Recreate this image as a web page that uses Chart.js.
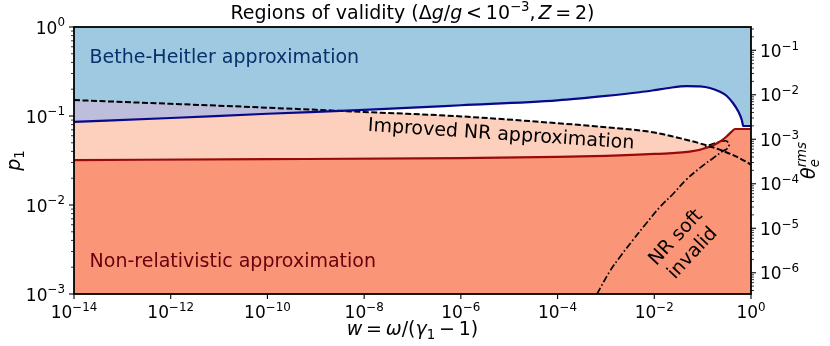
<!DOCTYPE html>
<html>
<head>
<meta charset="utf-8">
<script src="https://cdn.jsdelivr.net/npm/chart.js@4"></script>
<style>
  html, body { margin: 0; padding: 0; background: #fff; }
</style>
</head>
<body>
<canvas id="myChart" width="830" height="346"></canvas>
<script>
// ---- data (w on x, p1 on y) ----
// Bethe-Heitler boundary (blue solid)
const bhW = [1e-14, 1e-12, 1e-10, 1e-8, 1e-6, 1e-4, 1e-3, 0.005, 0.01, 0.0182, 0.0468, 0.0881, 0.141, 0.229, 0.316, 0.427, 0.550, 0.646, 0.692, 0.912, 1];
const bhP = [0.0857, 0.095, 0.106, 0.117, 0.132, 0.150, 0.168, 0.185, 0.195, 0.205, 0.217, 0.215, 0.2065, 0.1875, 0.168, 0.139, 0.1117, 0.0902, 0.0772, 0.0772, 0.0772];
// improved NR boundary (black dashed)
const impW = [1e-14, 1e-12, 1e-10, 1e-8, 1e-6, 1e-4, 1e-3, 1e-2, 0.0268, 0.087, 0.29, 0.87, 1];
const impP = [0.151, 0.137, 0.124, 0.111, 0.099, 0.083, 0.0748, 0.0653, 0.0581, 0.0493, 0.0397, 0.0297, 0.0281];
// non-relativistic boundary (dark red solid)
const nrW = [1e-14, 1e-10, 1e-6, 1e-4, 1e-3, 1e-2, 0.054, 0.140, 0.225, 0.309, 0.398, 0.467, 1];
const nrP = [0.0320, 0.0327, 0.0337, 0.0347, 0.0357, 0.0375, 0.0397, 0.0452, 0.0514, 0.0585, 0.0667, 0.0714, 0.0714];
// "NR soft invalid" contour (dash-dot)
const softW = [6.53e-4, 1.21e-3, 1.95e-3, 3.62e-3, 6.41e-3, 0.0131, 0.0243, 0.0452, 0.0879, 0.156, 0.263, 0.318, 0.350, 0.331, 0.296, 0.182, 0.112];
const softP = [1e-3, 1.81e-3, 2.61e-3, 4.04e-3, 5.96e-3, 9.50e-3, 0.0133, 0.0191, 0.0261, 0.0329, 0.0404, 0.0426, 0.0466, 0.0510, 0.0527, 0.0498, 0.0452];

// tick exponents
const xTickExp = [-14, -12, -10, -8, -6, -4, -2, 0];
const yTickExp = [-3, -2, -1, 0];
const y2TickExp = [-6, -5, -4, -3, -2, -1];
// right axis: theta_e^rms = p1^2 / 3
const thetaMin = 1e-6 / 3, thetaMax = 1 / 3;

const BLUE = '#9fc9e0', LAV = '#bdbddc', LIGHT = '#fdd0bd', SALMON = '#fb9577';
const NONE = 'rgba(0,0,0,0)';
const FONT = '"DejaVu Sans", sans-serif';

function pts(ws, ps) { return ws.map((w, i) => ({x: w, y: ps[i]})); }

// draw text made of pieces (italic / super / sub) like mathtext
function rich(ctx, parts, x, y, size, align) {
  let total = 0;
  const m = parts.map(p => {
    const fs = size * (p.s || 1);
    const f = (p.i ? 'italic ' : '') + fs + 'px ' + FONT;
    ctx.font = f;
    const w = ctx.measureText(p.t).width;
    const adv = p.noadv ? 0 : w + ((p.pl || 0) + (p.pr || 0)) * size;
    total += adv;
    return {f, adv};
  });
  let cx = align === 'center' ? x - total / 2 : align === 'right' ? x - total : x;
  ctx.textAlign = 'left';
  ctx.textBaseline = 'alphabetic';
  parts.forEach((p, k) => {
    ctx.font = m[k].f;
    ctx.fillText(p.t, cx + (p.pl || 0) * size, y - (p.dy || 0) * size);
    cx += m[k].adv;
  });
}
function pow10(e) {
  return [{t: '10'}, {t: e < 0 ? '\u2212' + (-e) : '' + e, s: 0.7, dy: 0.42}];
}
function minors(lo, hi) {
  const out = [];
  for (let e = Math.floor(Math.log10(lo)); e <= Math.ceil(Math.log10(hi)); e++) {
    for (let k = 2; k <= 9; k++) {
      const v = k * Math.pow(10, e);
      if (v >= lo && v <= hi) out.push(v);
    }
  }
  return out;
}

const decor = {
  id: 'decor',
  afterDatasetsDraw(chart) {
    const {ctx, scales} = chart;
    const X = v => scales.x.getPixelForValue(v), Y = v => scales.y.getPixelForValue(v);
    ctx.save();
    ctx.fillStyle = '#08306b';
    rich(ctx, [{t: 'Bethe-Heitler approximation'}], X(2.1e-14), Y(0.394), 19, 'left');
    ctx.fillStyle = '#67000d';
    rich(ctx, [{t: 'Non-relativistic approximation'}], X(2.1e-14), Y(0.00203), 19, 'left');
    ctx.fillStyle = '#000';
    ctx.save();
    ctx.translate(X(6.8e-6), Y(0.0615));
    ctx.rotate(3.8 * Math.PI / 180);
    ctx.font = '19px ' + FONT; ctx.textAlign = 'center'; ctx.textBaseline = 'middle';
    ctx.fillText('Improved NR approximation', 0, 0);
    ctx.restore();
    ctx.save();
    ctx.translate(X(0.042), Y(0.0035));
    ctx.rotate(-47 * Math.PI / 180);
    ctx.font = '19px ' + FONT; ctx.textAlign = 'center'; ctx.textBaseline = 'middle';
    ctx.fillText('NR soft', 0, -11.5);
    ctx.fillText('invalid', 0, 11.5);
    ctx.restore();
    ctx.restore();
  },
  afterDraw(chart) {
    const {ctx, chartArea: a, scales} = chart;
    ctx.save();
    ctx.strokeStyle = '#000';
    ctx.fillStyle = '#000';
    // ticks
    const tick = (x1, y1, x2, y2, w) => { ctx.lineWidth = w; ctx.beginPath(); ctx.moveTo(x1, y1); ctx.lineTo(x2, y2); ctx.stroke(); };
    xTickExp.forEach(e => {
      const px = scales.x.getPixelForValue(Math.pow(10, e));
      tick(px, a.bottom, px, a.bottom + 5, 1.1);
      rich(ctx, pow10(e), px, a.bottom + 24, 17, 'center');
    });
    yTickExp.forEach(e => {
      const py = scales.y.getPixelForValue(Math.pow(10, e));
      tick(a.left - 5, py, a.left, py, 1.1);
      rich(ctx, pow10(e), a.left - 9, py + 6.5, 17, 'right');
    });
    minors(1e-3, 1).forEach(v => {
      const py = scales.y.getPixelForValue(v);
      tick(a.left - 3, py, a.left, py, 0.8);
    });
    y2TickExp.forEach(e => {
      const py = scales.y2.getPixelForValue(Math.pow(10, e));
      tick(a.right, py, a.right + 5, py, 1.1);
      rich(ctx, pow10(e), a.right + 9, py + 6.5, 17, 'left');
    });
    minors(thetaMin, thetaMax).forEach(v => {
      const py = scales.y2.getPixelForValue(v);
      tick(a.right, py, a.right + 3, py, 0.8);
    });
    // frame
    ctx.lineWidth = 1.8;
    ctx.strokeRect(a.left, a.top, a.right - a.left, a.bottom - a.top);
    // title
    const cx = (a.left + a.right) / 2;
    rich(ctx, [
      {t: 'Regions of validity ('}, {t: '\u0394'}, {t: 'g', i: 1}, {t: '/'}, {t: 'g', i: 1},
      {t: '<', pl: 0.2, pr: 0.2}, {t: '10'}, {t: '\u22123', s: 0.7, dy: 0.42}, {t: ',', pr: 0.15},
      {t: 'Z', i: 1}, {t: '=', pl: 0.2, pr: 0.2}, {t: '2'}, {t: ')'}
    ], cx, 19, 19, 'center');
    // x label
    rich(ctx, [
      {t: 'w', i: 1}, {t: '=', pl: 0.2, pr: 0.2}, {t: '\u03c9', i: 1}, {t: '/('}, {t: '\u03b3', i: 1},
      {t: '1', s: 0.7, dy: -0.2}, {t: '\u2212', pl: 0.2, pr: 0.2}, {t: '1)'}
    ], cx, 335, 19, 'center');
    // left y label
    const cy = (a.top + a.bottom) / 2;
    ctx.save();
    ctx.translate(20, cy);
    ctx.rotate(-Math.PI / 2);
    rich(ctx, [{t: 'p', i: 1}, {t: '1', s: 0.7, dy: -0.2}], 0, 0, 19, 'center');
    ctx.restore();
    // right y label
    ctx.save();
    ctx.translate(815, cy);
    ctx.rotate(-Math.PI / 2);
    rich(ctx, [{t: '\u03b8', i: 1}, {t: 'e', i: 1, s: 0.7, dy: -0.2, noadv: 1}, {t: 'rms', i: 1, s: 0.7, dy: 0.45}], 0, 0, 19, 'center');
    ctx.restore();
    ctx.restore();
  }
};

new Chart('myChart', {
  type: 'line',
  data: {
    datasets: [
      { // overlap of Bethe-Heitler and improved NR
        data: pts(bhW, bhP), borderWidth: 0, pointRadius: 0, cubicInterpolationMode: 'monotone',
        fill: {target: 2, above: NONE, below: LAV}
      },
      {
        data: pts(bhW, bhP), borderColor: '#08088a', borderWidth: 2.2, pointRadius: 0,
        cubicInterpolationMode: 'monotone', fill: 'end', backgroundColor: BLUE
      },
      {
        data: pts(impW, impP), borderColor: '#000', borderWidth: 2, borderDash: [6, 2.5], pointRadius: 0,
        cubicInterpolationMode: 'monotone', fill: {target: 3, above: LIGHT, below: NONE}
      },
      {
        data: pts(nrW, nrP), borderColor: '#990a0a', borderWidth: 2.2, pointRadius: 0,
        cubicInterpolationMode: 'monotone', fill: 'start', backgroundColor: SALMON
      },
      {
        data: pts(softW, softP), borderColor: '#000', borderWidth: 1.7, borderDash: [7, 2.5, 1.6, 2.5],
        pointRadius: 0, tension: 0.4, fill: false
      }
    ]
  },
  options: {
    responsive: false,
    animation: false,
    devicePixelRatio: 1,
    layout: {padding: {top: 27, left: 0, right: 0, bottom: 0}},
    plugins: {
      legend: {display: false},
      tooltip: {enabled: false},
      filler: {drawTime: 'beforeDatasetsDraw'}
    },
    scales: {
      x: {
        type: 'logarithmic', min: 1e-14, max: 1,
        grid: {display: false}, border: {display: false}, ticks: {display: false},
        afterFit: s => { s.height = 52; }
      },
      y: {
        type: 'logarithmic', position: 'left', min: 1e-3, max: 1,
        grid: {display: false}, border: {display: false}, ticks: {display: false},
        afterFit: s => { s.width = 74; }
      },
      y2: {
        type: 'logarithmic', position: 'right', min: thetaMin, max: thetaMax,
        grid: {display: false}, border: {display: false}, ticks: {display: false},
        afterFit: s => { s.width = 79; }
      }
    }
  },
  plugins: [decor]
});
</script>
</body>
</html>
